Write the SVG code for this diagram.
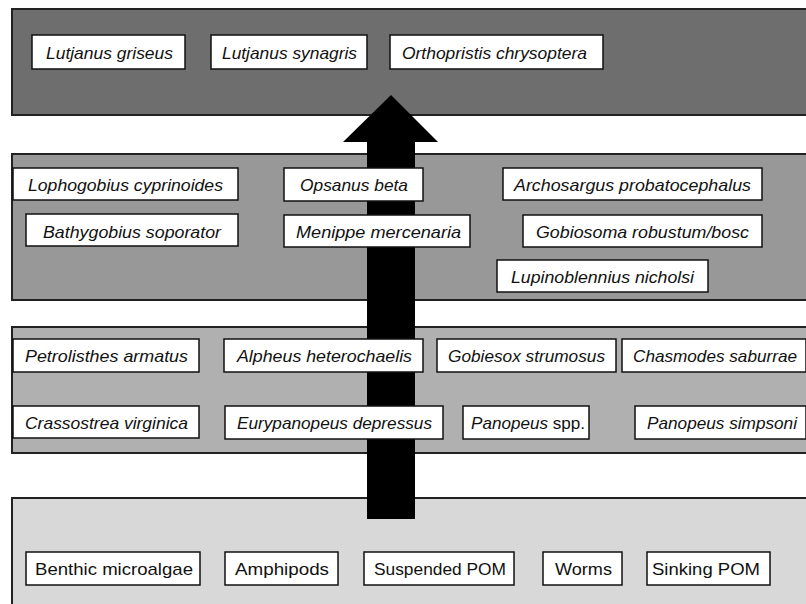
<svg xmlns="http://www.w3.org/2000/svg" width="806" height="604" viewBox="0 0 806 604">
<style>
.band{stroke:#222;stroke-width:2}
.b1{fill:#6e6e6e}.b2{fill:#989898}.b3{fill:#b0b0b0}.b4{fill:#d8d8d8}
.box{fill:#fff;stroke:#111;stroke-width:1.5}
text{font-family:"Liberation Sans",Arial,sans-serif;font-size:17px;fill:#111}
.it{font-style:italic}
</style>
<g id="bands">
<rect id="level4" class="band b1" x="12" y="9" width="796" height="106"/>
<rect id="level3" class="band b2" x="12" y="154" width="796" height="146"/>
<rect id="level2" class="band b3" x="12" y="327" width="796" height="126"/>
<rect id="level1" class="band b4" x="12" y="498" width="796" height="110"/>
</g>
<g id="connectors">
<polygon points="391,95 438,142 415,142 415,519 367,519 367,142 343,142" fill="#000"/>
</g>
<g id="n-lutjanus-griseus"><rect class="box" x="32" y="35" width="153" height="34"/><text class="it" x="46" y="59" textLength="127" lengthAdjust="spacingAndGlyphs">Lutjanus griseus</text></g>
<g id="n-lutjanus-synagris"><rect class="box" x="211" y="35" width="156" height="34"/><text class="it" x="222" y="59" textLength="135" lengthAdjust="spacingAndGlyphs">Lutjanus synagris</text></g>
<g id="n-orthopristis"><rect class="box" x="390" y="35" width="213" height="34"/><text class="it" x="402" y="59" textLength="185" lengthAdjust="spacingAndGlyphs">Orthopristis chrysoptera</text></g>

<g id="n-lophogobius"><rect class="box" x="13" y="168" width="225" height="32"/><text class="it" x="28" y="191" textLength="195" lengthAdjust="spacingAndGlyphs">Lophogobius cyprinoides</text></g>
<g id="n-opsanus"><rect class="box" x="284" y="168" width="139" height="33"/><text class="it" x="300" y="191" textLength="108" lengthAdjust="spacingAndGlyphs">Opsanus beta</text></g>
<g id="n-archosargus"><rect class="box" x="503" y="168" width="259" height="32"/><text class="it" x="514" y="191" textLength="237" lengthAdjust="spacingAndGlyphs">Archosargus probatocephalus</text></g>
<g id="n-bathygobius"><rect class="box" x="26" y="214" width="212" height="32"/><text class="it" x="43" y="238" textLength="178" lengthAdjust="spacingAndGlyphs">Bathygobius soporator</text></g>
<g id="n-menippe"><rect class="box" x="284" y="215" width="186" height="32"/><text class="it" x="296" y="238" textLength="165" lengthAdjust="spacingAndGlyphs">Menippe mercenaria</text></g>
<g id="n-gobiosoma"><rect class="box" x="523" y="215" width="239" height="32"/><text class="it" x="536" y="238" textLength="213" lengthAdjust="spacingAndGlyphs">Gobiosoma robustum/bosc</text></g>
<g id="n-lupinoblennius"><rect class="box" x="497" y="260" width="211" height="32"/><text class="it" x="511" y="283" textLength="183" lengthAdjust="spacingAndGlyphs">Lupinoblennius nicholsi</text></g>

<g id="n-petrolisthes"><rect class="box" x="13" y="339" width="186" height="33"/><text class="it" x="25" y="362" textLength="163" lengthAdjust="spacingAndGlyphs">Petrolisthes armatus</text></g>
<g id="n-alpheus"><rect class="box" x="224" y="339" width="199" height="33"/><text class="it" x="237" y="362" textLength="175" lengthAdjust="spacingAndGlyphs">Alpheus heterochaelis</text></g>
<g id="n-gobiesox"><rect class="box" x="437" y="339" width="179" height="33"/><text class="it" x="448" y="362" textLength="157" lengthAdjust="spacingAndGlyphs">Gobiesox strumosus</text></g>
<g id="n-chasmodes"><rect class="box" x="622" y="339" width="184" height="33"/><text class="it" x="633" y="362" textLength="164" lengthAdjust="spacingAndGlyphs">Chasmodes saburrae</text></g>
<g id="n-crassostrea"><rect class="box" x="13" y="406" width="186" height="32"/><text class="it" x="25" y="429" textLength="163" lengthAdjust="spacingAndGlyphs">Crassostrea virginica</text></g>
<g id="n-eurypanopeus"><rect class="box" x="225" y="406" width="218" height="33"/><text class="it" x="237" y="429" textLength="195" lengthAdjust="spacingAndGlyphs">Eurypanopeus depressus</text></g>
<g id="n-panopeus-spp"><rect class="box" x="463" y="406" width="126" height="33"/><text x="471" y="429" textLength="114" lengthAdjust="spacingAndGlyphs"><tspan class="it">Panopeus</tspan> spp.</text></g>
<g id="n-panopeus-simpsoni"><rect class="box" x="635" y="406" width="171" height="33"/><text class="it" x="647" y="429" textLength="150" lengthAdjust="spacingAndGlyphs">Panopeus simpsoni</text></g>

<g id="n-benthic"><rect class="box" x="26" y="552" width="174" height="33"/><text x="35" y="575" textLength="158" lengthAdjust="spacingAndGlyphs">Benthic microalgae</text></g>
<g id="n-amphipods"><rect class="box" x="225" y="552" width="113" height="33"/><text x="235" y="575" textLength="94" lengthAdjust="spacingAndGlyphs">Amphipods</text></g>
<g id="n-suspended"><rect class="box" x="364" y="552" width="150" height="33"/><text x="374" y="575" textLength="132" lengthAdjust="spacingAndGlyphs">Suspended POM</text></g>
<g id="n-worms"><rect class="box" x="543" y="552" width="79" height="33"/><text x="555" y="575" textLength="57" lengthAdjust="spacingAndGlyphs">Worms</text></g>
<g id="n-sinking"><rect class="box" x="647" y="552" width="123" height="33"/><text x="652" y="575" textLength="108" lengthAdjust="spacingAndGlyphs">Sinking POM</text></g>
</svg>
